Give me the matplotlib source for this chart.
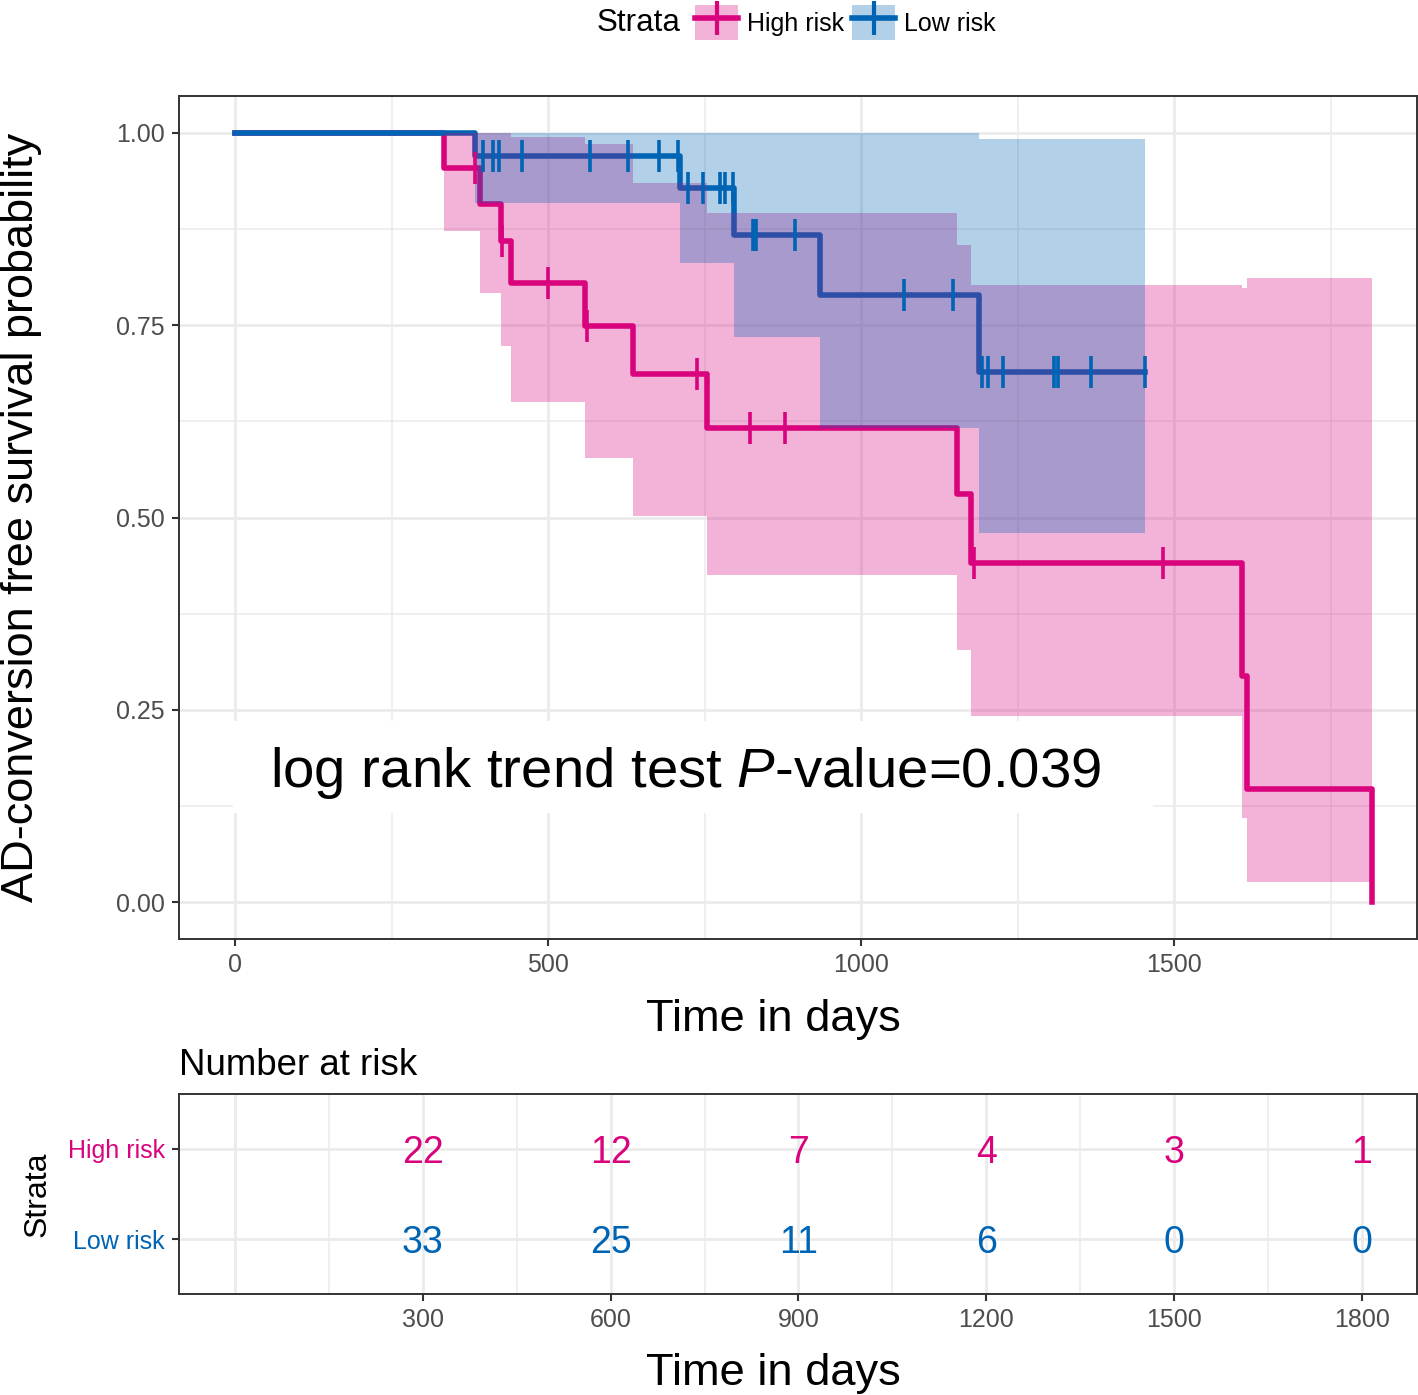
import matplotlib
matplotlib.use("Agg")
import matplotlib.pyplot as plt
from matplotlib.patches import Patch, Rectangle
from matplotlib.lines import Line2D
from matplotlib.legend_handler import HandlerTuple
from matplotlib.ticker import MultipleLocator

plt.rcParams['font.family'] = ['Liberation Sans', 'DejaVu Sans']
plt.rcParams['mathtext.fontset'] = 'custom'
plt.rcParams['mathtext.rm'] = 'Liberation Sans'
plt.rcParams['mathtext.it'] = 'Liberation Sans:italic'

HIGH = '#D9037E'
LOW = '#0064B4'
GRID = '#EBEBEB'
TXT = '#4D4D4D'

# Kaplan-Meier curves (days, survival probability)
high_time = [0, 334, 391, 425, 441, 559, 636, 754, 1153, 1176, 1609, 1617, 1816]
high_surv = [1.0, 0.955, 0.907, 0.860, 0.805, 0.749, 0.687, 0.617, 0.530, 0.441, 0.294, 0.147, 0.0]
high_upper = [1.0, 1.0, 1.0, 1.0, 0.995, 0.985, 0.935, 0.896, 0.854, 0.802, 0.798, 0.811, 0.811]
high_lower = [1.0, 0.873, 0.792, 0.723, 0.650, 0.577, 0.502, 0.425, 0.328, 0.242, 0.109, 0.026, 0.026]
high_cens_time = [384, 426, 500, 562, 738, 823, 879, 1181, 1482]
high_cens_surv = [0.955, 0.860, 0.805, 0.749, 0.687, 0.617, 0.617, 0.441, 0.441]

low_time = [0, 383, 711, 797, 935, 1189, 1454]
low_surv = [1.0, 0.970, 0.929, 0.867, 0.789, 0.689, 0.689]
low_upper = [1.0, 1.0, 1.0, 1.0, 1.0, 0.992, 0.992]
low_lower = [1.0, 0.909, 0.831, 0.735, 0.616, 0.480, 0.480]
low_cens_time = [396, 412, 422, 458, 567, 628, 677, 708,
                 724, 748, 775, 783, 796,
                 827, 832, 894,
                 1069, 1147,
                 1193, 1203, 1227, 1308, 1315, 1367, 1454]
low_cens_surv = [0.970] * 8 + [0.929] * 5 + [0.867] * 3 + [0.789] * 2 + [0.689] * 7

# number at risk table
risk_times = [300, 600, 900, 1200, 1500, 1800]
high_risk = [22, 12, 7, 4, 3, 1]
low_risk = [33, 25, 11, 6, 0, 0]
strata = ['Low risk', 'High risk']

pvalue_text = 'log rank trend test $\\mathit{P}$-value=0.039'

W, H = 1418, 1395
fig = plt.figure(figsize=(W / 100, H / 100), dpi=100)


def px_axes(l, t, r, b):
    return fig.add_axes([l / W, 1 - b / H, (r - l) / W, (b - t) / H])


def style_axes(ax):
    for s in ax.spines.values():
        s.set_color('#333333')
        s.set_linewidth(1.4)
    ax.tick_params(which='major', length=5, width=1.5, color='#333333', pad=5,
                   labelsize=18, labelcolor=TXT)
    ax.tick_params(which='minor', length=0)
    ax.grid(which='major', color=GRID, lw=2.0, zorder=0)
    ax.grid(which='minor', color=GRID, lw=1.1, zorder=0)
    ax.set_axisbelow(True)


# ---------------- survival panel ----------------
ax = px_axes(179, 96, 1417, 939)
style_axes(ax)
ax.set_xlim(-89.5, 1888)
ax.set_ylim(-0.048, 1.048)
ax.xaxis.set_major_locator(MultipleLocator(500))
ax.xaxis.set_minor_locator(MultipleLocator(250))
ax.yaxis.set_major_locator(MultipleLocator(0.25))
ax.yaxis.set_minor_locator(MultipleLocator(0.125))
ax.yaxis.set_major_formatter(matplotlib.ticker.FormatStrFormatter('%.2f'))

ax.step(high_time, high_surv, where='post', color=HIGH, lw=4.0, zorder=2)
ax.step(low_time, low_surv, where='post', color=LOW, lw=4.0, zorder=2)
ax.fill_between(high_time, high_lower, high_upper, step='post', color=HIGH, alpha=0.3, lw=0, zorder=3)
ax.fill_between(low_time, low_lower, low_upper, step='post', color=LOW, alpha=0.3, lw=0, zorder=3)
ax.plot(low_cens_time, low_cens_surv, ls='none', marker='|', ms=23, mew=2.6, color=LOW, zorder=4)
ax.plot(high_cens_time, high_cens_surv, ls='none', marker='|', ms=23, mew=2.6, color=HIGH, zorder=4)

# white label behind p-value text
ax.add_patch(Rectangle((-3, 0.116), 1469, 0.119, facecolor='white', edgecolor='none', zorder=1))
ax.text(56, 0.168, pvalue_text, fontsize=40.6, va='center', ha='left', color='black', zorder=5)

ax.set_xlabel('Time in days', fontsize=32.6, color='black')
ax.xaxis.label.set_va('baseline')
ax.xaxis.set_label_coords((773 - 179) / 1238, (939 - 1031) / 843)
ax.set_ylabel('AD-conversion free survival probability', fontsize=32.5, color='black')
ax.yaxis.label.set_va('center')
ax.yaxis.set_label_coords((22 - 179) / 1238, 0.5)

# legend on top
handles = [(Patch(facecolor=HIGH, alpha=0.3, edgecolor='none'),
            Line2D([], [], color=HIGH, lw=4, marker='+', ms=25, mew=3)),
           (Patch(facecolor=LOW, alpha=0.3, edgecolor='none'),
            Line2D([], [], color=LOW, lw=4, marker='+', ms=25, mew=3))]
fig.legend(handles, ['High risk', 'Low risk'], handler_map={tuple: HandlerTuple(ndivide=1, pad=0)},
           loc='center left', bbox_to_anchor=(695 / W, 1 - 22.5 / H), ncol=2, frameon=False,
           fontsize=18, handlelength=1.72, handleheight=1.8, handletextpad=0.36,
           columnspacing=0.32, borderpad=0, borderaxespad=0)
fig.text(597 / W, 1 - 23 / H, 'Strata', fontsize=22.6, va='center', ha='left')

# ---------------- risk table ----------------
rt = px_axes(179, 1094, 1417, 1294)
style_axes(rt)
rt.set_xlim(-89.5, 1888)
rt.set_ylim(0.4, 2.6)
rt.set_xticks(risk_times)
rt.xaxis.set_minor_locator(MultipleLocator(150))
rt.set_yticks([1, 2])
rt.set_yticklabels(strata)
for lab, c in zip(rt.get_yticklabels(), [LOW, HIGH]):
    lab.set_color(c)
rt.axvline(0, color=GRID, lw=2.0, zorder=0)
for t, n in zip(risk_times, high_risk):
    rt.text(t, 2, str(n), color=HIGH, fontsize=27, ha='center', va='center_baseline')
for t, n in zip(risk_times, low_risk):
    rt.text(t, 1, str(n), color=LOW, fontsize=27, ha='center', va='center_baseline')

rt.set_xlabel('Time in days', fontsize=32.6, color='black')
rt.xaxis.label.set_va('baseline')
rt.xaxis.set_label_coords((773 - 179) / 1238, (1294 - 1385) / 200)
rt.set_ylabel('Strata', fontsize=23, color='black')
rt.yaxis.label.set_va('center')
rt.yaxis.set_label_coords((38 - 179) / 1238, 0.5)
rt.text(0, (1294 - 1075) / 200, 'Number at risk', transform=rt.transAxes,
        fontsize=26.4, ha='left', va='baseline')

fig.savefig('out.png', dpi=100)
